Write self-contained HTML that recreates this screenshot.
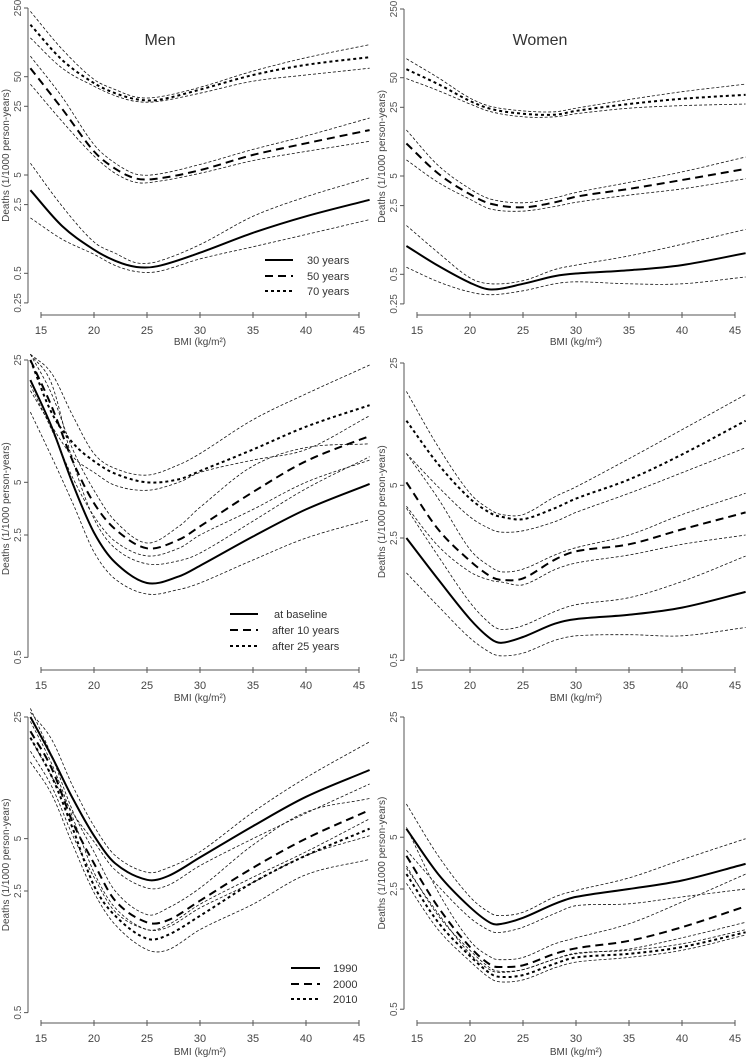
<!DOCTYPE html>
<html><head><meta charset="utf-8">
<style>
body{margin:0;background:#fff;}
svg{display:block;font-family:"Liberation Sans",Arial,sans-serif;}
</style></head>
<body>
<svg id="chart" width="748" height="1058" viewBox="0 0 748 1058">
<g id="axes"></g>
<g id="curves"></g>
<text x="160" y="45" font-size="16" fill="#333" text-anchor="middle">Men</text>
<text x="540" y="45" font-size="16" fill="#333" text-anchor="middle">Women</text>
<g>
<line x1="265" y1="260" x2="293" y2="260" stroke="#000" stroke-width="2"/>
<line x1="265" y1="276" x2="293" y2="276" stroke="#000" stroke-width="2" stroke-dasharray="8,5"/>
<line x1="265" y1="291" x2="293" y2="291" stroke="#000" stroke-width="2" stroke-dasharray="3,3"/>
<text x="307" y="264" font-size="11" fill="#333">30 years</text>
<text x="307" y="280" font-size="11" fill="#333">50 years</text>
<text x="307" y="295" font-size="11" fill="#333">70 years</text>
</g>
<g>
<line x1="230" y1="614" x2="258" y2="614" stroke="#000" stroke-width="2"/>
<line x1="230" y1="630" x2="258" y2="630" stroke="#000" stroke-width="2" stroke-dasharray="8,5"/>
<line x1="230" y1="646" x2="258" y2="646" stroke="#000" stroke-width="2" stroke-dasharray="3,3"/>
<text x="274" y="618" font-size="11" fill="#333">at baseline</text>
<text x="272" y="634" font-size="11" fill="#333">after 10 years</text>
<text x="272" y="650" font-size="11" fill="#333">after 25 years</text>
</g>
<g>
<line x1="291" y1="968" x2="320" y2="968" stroke="#000" stroke-width="2"/>
<line x1="291" y1="984" x2="320" y2="984" stroke="#000" stroke-width="2" stroke-dasharray="8,5"/>
<line x1="291" y1="999" x2="320" y2="999" stroke="#000" stroke-width="2" stroke-dasharray="3,3"/>
<text x="333" y="972" font-size="11" fill="#333">1990</text>
<text x="333" y="988" font-size="11" fill="#333">2000</text>
<text x="333" y="1003" font-size="11" fill="#333">2010</text>
</g>
</svg>
<script>
// ---- tick labels ----
const xTicks = [15, 20, 25, 30, 35, 40, 45];
const yTicksTop = [250, 50, 25, 5, 2.5, 0.5, 0.25];
const yTicksMid = [25, 5, 2.5, 0.5];
const yTicksBot = [25, 5, 2.5, 0.5];

// ---- panel A: age at baseline (Men) ----
const menAgeX = [14, 17, 20, 22, 24, 26, 30, 35, 40, 46];
const men30 = [3.5, 1.51, 0.87, 0.67, 0.58, 0.59, 0.81, 1.29, 1.9, 2.8];
const men30Hi = [6.6, 2.4, 1.04, 0.8, 0.64, 0.66, 0.98, 1.9, 3.0, 4.7];
const men30Lo = [1.83, 1.11, 0.78, 0.6, 0.52, 0.52, 0.70, 0.93, 1.24, 1.76];
const men50 = [61, 23.5, 8.7, 5.8, 4.6, 4.6, 5.6, 8, 10.5, 14.3];
const men50Hi = [81, 31, 10.2, 6.6, 5.1, 5.1, 6.4, 9.1, 12.5, 19];
const men50Lo = [42, 17.5, 7.8, 5.2, 4.2, 4.3, 5.2, 7, 8.7, 11];
const men70 = [169, 74, 43, 34, 29.5, 29, 37, 52, 66, 79];
const men70Hi = [231, 95, 47, 37, 31, 31, 39, 57, 78, 106];
const men70Lo = [124, 61, 40, 32, 28, 28, 34, 45, 52, 61];

// ---- panel B: age at baseline (Women) ----
const womenAgeX = [14, 17, 20, 22, 25, 28, 30, 35, 40, 46];
const wom30 = [0.97, 0.61, 0.41, 0.35, 0.40, 0.48, 0.51, 0.55, 0.62, 0.82];
const wom30Hi = [1.57, 0.83, 0.46, 0.40, 0.43, 0.56, 0.62, 0.77, 1.01, 1.43];
const wom30Lo = [0.59, 0.42, 0.33, 0.31, 0.34, 0.40, 0.42, 0.40, 0.40, 0.47];
const wom50 = [10.7, 5.3, 3.26, 2.6, 2.4, 2.7, 3.08, 3.7, 4.55, 5.9];
const wom50Hi = [14.7, 6.4, 3.7, 2.9, 2.67, 3.0, 3.4, 4.3, 5.5, 7.8];
const wom50Lo = [7.3, 4.3, 2.9, 2.3, 2.2, 2.45, 2.7, 3.2, 3.7, 4.7];
const wom70 = [61, 43, 29, 24, 21.5, 21, 23, 27, 30.5, 33.5];
const wom70Hi = [78, 50, 31, 25.5, 23, 22.5, 24.5, 30, 36, 43];
const wom70Lo = [49, 37, 27, 22.5, 20, 20, 21.5, 24.5, 26, 27];

// ---- panel C: follow-up (Men) ----
const menFuX = [14, 16, 18, 20, 22, 25, 28, 30, 35, 40, 46];
const menBase = [19.2, 10.4, 4.9, 2.58, 1.74, 1.33, 1.45, 1.67, 2.45, 3.5, 4.9];
const menBaseHi = [27, 18.3, 6.6, 3.1, 2.1, 1.71, 1.78, 1.97, 3.0, 4.6, 7.0];
const menBaseLo = [12.6, 7.0, 3.8, 2.0, 1.4, 1.15, 1.22, 1.33, 1.8, 2.4, 3.06];
const men10 = [25, 13.6, 6.6, 3.8, 2.7, 2.1, 2.35, 2.8, 4.4, 6.6, 9.2];
const men10Hi = [27, 16, 7.7, 4.5, 3.0, 2.25, 2.8, 3.6, 6.2, 7.9, 8.3];
const men10Lo = [18, 10, 5.3, 3.2, 2.3, 1.9, 2.1, 2.5, 3.5, 5.0, 6.7];
const men25 = [25, 12.5, 8.4, 6.6, 5.6, 5.0, 5.2, 5.8, 7.7, 10.4, 13.8];
const men25Hi = [27, 21, 12, 7.3, 6.0, 5.5, 6.3, 7.3, 11.4, 16, 23.4];
const men25Lo = [16.7, 10.5, 7.0, 5.7, 4.8, 4.5, 5.0, 5.7, 6.7, 7.7, 12];

// ---- panel D: follow-up (Women) ----
const womFuX = [14, 17, 20, 22, 23, 25, 28, 30, 35, 40, 46];
const womBase = [2.5, 1.45, 0.86, 0.66, 0.63, 0.68, 0.81, 0.86, 0.91, 1.0, 1.23];
const womBaseHi = [3.7, 1.97, 1.07, 0.8, 0.75, 0.79, 0.95, 1.04, 1.14, 1.41, 1.97];
const womBaseLo = [1.58, 1.02, 0.67, 0.55, 0.53, 0.55, 0.65, 0.69, 0.70, 0.69, 0.77];
const wom10 = [5.2, 2.8, 1.85, 1.5, 1.44, 1.47, 1.88, 2.1, 2.3, 2.8, 3.5];
const wom10Hi = [7.6, 4.2, 2.15, 1.7, 1.6, 1.66, 2.0, 2.2, 2.6, 3.4, 4.5];
const wom10Lo = [3.8, 2.25, 1.6, 1.43, 1.4, 1.35, 1.65, 1.8, 2.0, 2.3, 2.6];
const wom25 = [11.7, 6.6, 4.2, 3.45, 3.3, 3.2, 3.7, 4.2, 5.4, 7.5, 11.7];
const wom25Hi = [17.2, 8.3, 4.5, 3.6, 3.4, 3.4, 4.3, 4.9, 7.1, 10.4, 16.5];
const wom25Lo = [7.6, 4.9, 3.3, 2.8, 2.7, 2.75, 3.1, 3.5, 4.5, 5.9, 8.2];

// ---- panel E: period (Men) ----
const menPerX = [14, 16, 18, 20, 22, 25, 27, 30, 35, 40, 46];
const men1990 = [25, 14.9, 8.5, 5.2, 3.6, 2.9, 3.05, 3.9, 5.9, 8.7, 12.4];
const men1990Hi = [26.6, 18.6, 10, 5.9, 4.0, 3.2, 3.4, 4.2, 7.1, 11.2, 18];
const men1990Lo = [19, 11.4, 7.0, 4.8, 3.3, 2.6, 2.7, 3.5, 5.0, 7.0, 10.3];
const men2000 = [20.7, 12.7, 6.2, 3.6, 2.2, 1.65, 1.7, 2.2, 3.4, 5.0, 7.3];
const men2000Hi = [28, 15, 7.2, 4.2, 2.5, 1.83, 2.0, 2.6, 4.6, 7.1, 8.5];
const men2000Lo = [15.9, 10, 5.2, 3.0, 1.9, 1.5, 1.55, 2.0, 2.8, 4.0, 5.2];
const men2010 = [19, 11.4, 5.7, 2.68, 1.8, 1.33, 1.4, 1.8, 2.8, 4.0, 5.7];
const men2010Hi = [23.6, 13.5, 6.6, 3.2, 2.0, 1.5, 1.6, 2.1, 3.0, 4.2, 6.5];
const men2010Lo = [13.8, 9, 4.6, 2.45, 1.6, 1.15, 1.15, 1.5, 2.1, 3.1, 3.8];

// ---- panel F: period (Women) ----
const womPerX = [14, 17, 20, 22, 23, 25, 28, 30, 35, 40, 46];
const wom1990 = [5.6, 3.05, 1.96, 1.58, 1.57, 1.70, 2.05, 2.25, 2.5, 2.8, 3.5];
const wom1990Hi = [7.8, 3.9, 2.25, 1.8, 1.75, 1.83, 2.25, 2.45, 2.9, 3.7, 4.9];
const wom1990Lo = [4.2, 2.6, 1.7, 1.42, 1.4, 1.5, 1.8, 2.0, 2.05, 2.25, 2.5];
const wom2000 = [3.9, 1.96, 1.15, 0.9, 0.88, 0.9, 1.05, 1.13, 1.25, 1.5, 1.98];
const wom2000Hi = [5.7, 2.4, 1.25, 1.0, 0.97, 1.0, 1.2, 1.3, 1.57, 2.1, 3.05];
const wom2000Lo = [3.3, 1.8, 1.05, 0.84, 0.82, 0.85, 0.98, 1.05, 1.12, 1.3, 1.6];
const wom2010 = [3.05, 1.6, 1.02, 0.8, 0.77, 0.79, 0.92, 1.0, 1.05, 1.15, 1.4];
const wom2010Hi = [3.4, 1.75, 1.1, 0.86, 0.83, 0.85, 0.98, 1.06, 1.1, 1.2, 1.45];
const wom2010Lo = [2.7, 1.45, 0.95, 0.75, 0.72, 0.74, 0.87, 0.94, 1.0, 1.1, 1.35];

const NS = 'http://www.w3.org/2000/svg';
const axesG = document.getElementById('axes');
const curvesG = document.getElementById('curves');

function mk(tag, attrs, parent) {
  const e = document.createElementNS(NS, tag);
  for (const k in attrs) e.setAttribute(k, attrs[k]);
  parent.appendChild(e);
  return e;
}

const panels = [
  {id: 'men-age', x15: 41, axX: 28, yRef: 250, yRefPx: 8, ppd: 98.3, ticks: yTicksTop, xAxisY: 315, lab: 334, title: 345},
  {id: 'women-age', x15: 417, axX: 404, yRef: 250, yRefPx: 9, ppd: 98.3, ticks: yTicksTop, xAxisY: 315, lab: 334, title: 345},
  {id: 'men-followup', x15: 41, axX: 28, yRef: 25, yRefPx: 360, ppd: 175, ticks: yTicksMid, xAxisY: 670, lab: 689, title: 701},
  {id: 'women-followup', x15: 417, axX: 404, yRef: 25, yRefPx: 363, ppd: 175, ticks: yTicksMid, xAxisY: 670, lab: 689, title: 701},
  {id: 'men-period', x15: 41, axX: 28, yRef: 25, yRefPx: 717, ppd: 174, ticks: yTicksBot, xAxisY: 1023, lab: 1042, title: 1055},
  {id: 'women-period', x15: 417, axX: 404, yRef: 25, yRefPx: 717, ppd: 172, ticks: yTicksBot, xAxisY: 1023, lab: 1042, title: 1055}
];

function xs(p, b) { return p.x15 + (b - 15) * 10.6; }
function ys(p, v) { return p.yRefPx + (Math.log10(p.yRef) - Math.log10(v)) * p.ppd; }

panels.forEach(p => {
  const g = mk('g', {}, axesG);
  
  
  const yTop = ys(p, p.ticks[0]), yBot = ys(p, p.ticks[p.ticks.length - 1]);
  const yl = mk('line', {x1: p.axX, y1: yTop, x2: p.axX, y2: yBot, stroke: '#555', 'stroke-width': 1}, g);
  
  
  p.ticks.forEach(t => {
    const y = ys(p, t);
    mk('line', {x1: p.axX - 4, y1: y, x2: p.axX, y2: y, stroke: '#555', 'stroke-width': 1}, g);
    const tx = mk('text', {x: p.axX - 7, y: y, 'font-size': 10, fill: '#555', 'text-anchor': 'middle', transform: 'rotate(-90 ' + (p.axX - 7) + ' ' + y + ')'}, g);
    
    
    tx.textContent = String(t);
  });
  const ymid = (yTop + yBot) / 2;
  const yt = mk('text', {x: p.axX - 19, y: ymid, 'font-size': 10, fill: '#444', 'text-anchor': 'middle', transform: 'rotate(-90 ' + (p.axX - 19) + ' ' + ymid + ')'}, g);
  
  
  yt.textContent = 'Deaths (1/1000 person-years)';
  const xl = mk('line', {x1: xs(p, 15), y1: p.xAxisY, x2: xs(p, 45), y2: p.xAxisY, stroke: '#555', 'stroke-width': 1}, g);
  
  
  xTicks.forEach(t => {
    const x = xs(p, t);
    mk('line', {x1: x, y1: p.xAxisY - 3, x2: x, y2: p.xAxisY + 3, stroke: '#555', 'stroke-width': 1}, g);
    const tx = mk('text', {x: x, y: p.lab, 'font-size': 11, fill: '#444', 'text-anchor': 'middle'}, g);
    
    
    tx.textContent = String(t);
  });
  const xt = mk('text', {x: xs(p, 30), y: p.title, 'font-size': 10, fill: '#444', 'text-anchor': 'middle'}, g);
  
  
  xt.textContent = 'BMI (kg/m²)';
});

function pathFor(p, bx, vals) {
  const pts = bx.map((b, i) => [xs(p, b), ys(p, vals[i])]);
  const n = pts.length;
  const m = pts.map((pt, i) => {
    const a = pts[Math.max(0, i - 1)], c = pts[Math.min(n - 1, i + 1)];
    return (c[1] - a[1]) / (c[0] - a[0]);
  });
  let d = 'M' + pts[0][0].toFixed(1) + ',' + pts[0][1].toFixed(1);
  for (let i = 0; i < n - 1; i++) {
    const p1 = pts[i], p2 = pts[i + 1];
    const dx = (p2[0] - p1[0]) / 3;
    const c1 = [p1[0] + dx, p1[1] + m[i] * dx];
    const c2 = [p2[0] - dx, p2[1] - m[i + 1] * dx];
    d += ' C' + c1[0].toFixed(1) + ',' + c1[1].toFixed(1) + ' ' + c2[0].toFixed(1) + ',' + c2[1].toFixed(1) + ' ' + p2[0].toFixed(1) + ',' + p2[1].toFixed(1);
  }
  return d;
}

const STY = {solid: '', dash: '8,5', dot: '3,3'};
function drawSeries(pi, name, bx, mid, lo, hi, style) {
  const p = panels[pi];
  const g = mk('g', {}, curvesG);
  
  
  [hi, lo].forEach(arr => {
    const ci = mk('path', {d: pathFor(p, bx, arr), fill: 'none', stroke: '#111', 'stroke-width': 0.8, 'stroke-dasharray': '3,2'}, g);
    
    
  });
  const mm = mk('path', {d: pathFor(p, bx, mid), fill: 'none', stroke: '#000', 'stroke-width': 2}, g);
  if (STY[style]) mm.setAttribute('stroke-dasharray', STY[style]);
  
  
}

drawSeries(0, '30-years', menAgeX, men30, men30Lo, men30Hi, 'solid');
drawSeries(0, '50-years', menAgeX, men50, men50Lo, men50Hi, 'dash');
drawSeries(0, '70-years', menAgeX, men70, men70Lo, men70Hi, 'dot');
drawSeries(1, '30-years', womenAgeX, wom30, wom30Lo, wom30Hi, 'solid');
drawSeries(1, '50-years', womenAgeX, wom50, wom50Lo, wom50Hi, 'dash');
drawSeries(1, '70-years', womenAgeX, wom70, wom70Lo, wom70Hi, 'dot');
drawSeries(2, 'at-baseline', menFuX, menBase, menBaseLo, menBaseHi, 'solid');
drawSeries(2, 'after-10-years', menFuX, men10, men10Lo, men10Hi, 'dash');
drawSeries(2, 'after-25-years', menFuX, men25, men25Lo, men25Hi, 'dot');
drawSeries(3, 'at-baseline', womFuX, womBase, womBaseLo, womBaseHi, 'solid');
drawSeries(3, 'after-10-years', womFuX, wom10, wom10Lo, wom10Hi, 'dash');
drawSeries(3, 'after-25-years', womFuX, wom25, wom25Lo, wom25Hi, 'dot');
drawSeries(4, '1990', menPerX, men1990, men1990Lo, men1990Hi, 'solid');
drawSeries(4, '2000', menPerX, men2000, men2000Lo, men2000Hi, 'dash');
drawSeries(4, '2010', menPerX, men2010, men2010Lo, men2010Hi, 'dot');
drawSeries(5, '1990', womPerX, wom1990, wom1990Lo, wom1990Hi, 'solid');
drawSeries(5, '2000', womPerX, wom2000, wom2000Lo, wom2000Hi, 'dash');
drawSeries(5, '2010', womPerX, wom2010, wom2010Lo, wom2010Hi, 'dot');
</script>
</body></html>
